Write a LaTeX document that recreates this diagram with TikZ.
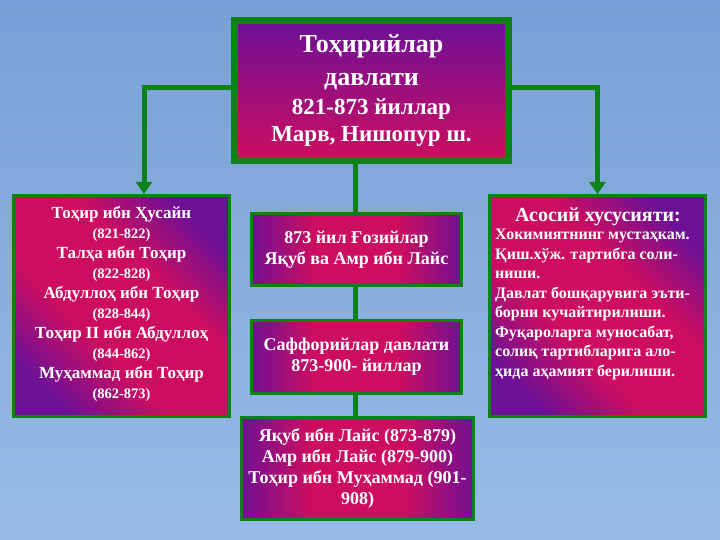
\documentclass[tikz,border=0pt]{standalone}
\usepackage{fontspec}
\setmainfont{Liberation Serif}
\usetikzlibrary{arrows.meta,calc}
\definecolor{bgtop}{RGB}{120,160,214}
\definecolor{bgbot}{RGB}{152,187,230}
\definecolor{grn}{RGB}{14,130,22}
\definecolor{pur}{RGB}{108,16,150}
\definecolor{mag}{RGB}{205,14,96}
\pgfdeclareverticalshading{pmshade}{100bp}{color(0bp)=(pur); color(24bp)=(pur); color(40bp)=(mag); color(60bp)=(mag); color(76bp)=(pur); color(100bp)=(pur)}
\pgfdeclarelayer{bg}\pgfdeclarelayer{lines}\pgfsetlayers{bg,lines,main}
\tikzset{
  box/.style={draw=grn, line width=3pt, inner sep=0pt, text=white, font=\bfseries, align=center},
  diag/.style={shading=pmshade, shading angle=-45},
  horiz/.style={shading=pmshade, shading angle=90},
  txt/.style={text=white, inner sep=0pt},
  conn/.style={draw=grn, line width=5pt},
  tip/.style={-{Triangle[width=16pt,length=12pt]}}
}
\begin{document}
\begin{tikzpicture}[x=1pt,y=-1pt]
\useasboundingbox (0,0) rectangle (720,540);
\begin{pgfonlayer}{bg}
\shade[top color=bgtop,bottom color=bgbot] (0,0) rectangle (720,540);
\end{pgfonlayer}

\node[box, line width=7pt, top color=pur, bottom color=mag, minimum width=274pt, minimum height=140pt,
  font=\bfseries\fontsize{23}{27}\selectfont] (top) at (371.5,90.5)
 {\fontsize{26}{27}\selectfont Тоҳирийлар\\[6pt]\fontsize{26}{27}\selectfont давлати\\[2pt]821-873 йиллар\\Марв, Нишопур ш.};

\node[box, diag, minimum width=216pt, minimum height=221pt] (left) at (121.5,306) {};
\node[txt, font=\bfseries\fontsize{17}{20.1}\selectfont, align=center] (ltext) at (121.5,304)
 {Тоҳир ибн Ҳусайн\\\fontsize{14.5}{20}\selectfont (821-822)\\
  Талҳа ибн Тоҳир\\\fontsize{14.5}{20}\selectfont (822-828)\\
  Абдуллоҳ ибн Тоҳир\\\fontsize{14.5}{20}\selectfont (828-844)\\
  Тоҳир II ибн Абдуллоҳ\\\fontsize{14.5}{20}\selectfont (844-862)\\
  Муҳаммад ибн Тоҳир\\\fontsize{14.5}{20}\selectfont (862-873)};

\node[box, diag, minimum width=216pt, minimum height=221pt] (right) at (597.5,306) {};
\node[txt, font=\bfseries\fontsize{20}{22}\selectfont] (rhead) at (598,217) {Асосий хусусияти:};
\node[txt, font=\bfseries\fontsize{16}{19.5}\selectfont, align=left, anchor=north west] (rbody) at (495,229)
 {Хокимиятнинг мустаҳкам.\\Қиш.хўж. тартибга соли-\\ниши.\\Давлат бошқарувига эъти-\\борни кучайтирилиши.\\Фуқароларга муносабат,\\солиқ тартибларига ало-\\ҳида аҳамият берилиши.};

\node[box, horiz, minimum width=210pt, minimum height=72pt, font=\bfseries\fontsize{18}{21}\selectfont] (mid1) at (356.5,249.5)
 {873 йил Ғозийлар\\Яқуб ва Амр ибн Лайс};
\node[box, horiz, minimum width=210pt, minimum height=73pt, font=\bfseries\fontsize{18}{21}\selectfont] (mid2) at (356.5,357)
 {Саффорийлар давлати\\873-900- йиллар};
\node[box, horiz, minimum width=232pt, minimum height=102pt, font=\bfseries\fontsize{18}{21}\selectfont] (bot) at (357.5,468.5)
 {Яқуб ибн Лайс (873-879)\\Амр ибн Лайс (879-900)\\Тоҳир ибн Муҳаммад (901-\\908)};

\begin{pgfonlayer}{lines}
\draw[conn, tip] ([yshift=2.5pt]top.west) -| ([xshift=22.5pt]left.north);
\draw[conn, tip] ([yshift=2.5pt]top.east) -| (right.north);
\draw[conn] ([xshift=-1.5pt]mid1.north |- top.south) -- ([xshift=-1.5pt]mid1.north |- bot.north);
\end{pgfonlayer}
\end{tikzpicture}
\end{document}
